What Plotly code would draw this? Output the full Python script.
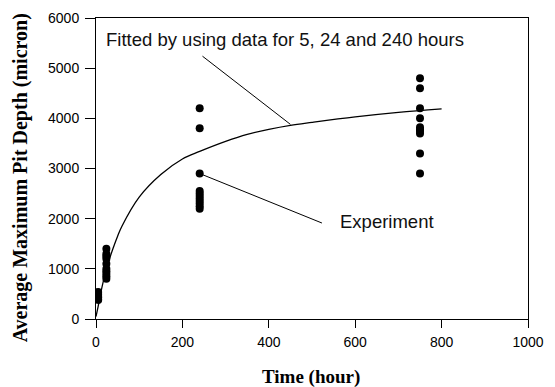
import plotly.graph_objects as go

# Experimental data (hours, pit depth in microns)
exp_time_5 = [5, 5, 5, 5, 5, 5]
exp_depth_5 = [540, 500, 460, 430, 400, 380]
exp_time_24 = [24] * 10
exp_depth_24 = [1400, 1300, 1250, 1200, 1100, 1000, 950, 900, 850, 800]
exp_time_240 = [240] * 11
exp_depth_240 = [4200, 3800, 2900, 2550, 2500, 2450, 2400, 2350, 2300, 2250, 2200]
exp_time_750 = [750] * 10
exp_depth_750 = [4800, 4600, 4200, 4000, 3820, 3780, 3750, 3700, 3300, 2900]

# Fitted curve
fit_time = [0, 5, 10, 24, 40, 50, 60, 100, 150, 200, 240, 300, 350, 400, 450, 500, 600, 700, 800]
fit_depth = [50, 250, 480, 1000, 1420, 1650, 1850, 2430, 2880, 3190, 3340, 3540, 3680, 3780, 3860, 3920, 4030, 4120, 4190]

x_ticks = [0, 200, 400, 600, 800, 1000]
y_ticks = [0, 1000, 2000, 3000, 4000, 5000, 6000]

# Annotation texts and pointer positions (data coordinates)
fit_label = "Fitted by using data for 5, 24 and 240 hours"
fit_label_pos = (18, 5580)
fit_pointer = ((243, 5262), (450, 3880))
exp_label = "Experiment"
exp_label_pos = (560, 1950)
exp_pointer = ((240, 2900), (523, 1913))
x_title = "Time (hour)"
y_title = "Average Maximum Pit Depth (micron)"

all_t = exp_time_5 + exp_time_24 + exp_time_240 + exp_time_750
all_d = exp_depth_5 + exp_depth_24 + exp_depth_240 + exp_depth_750

fig = go.Figure()
fig.add_trace(go.Scatter(x=fit_time, y=fit_depth, mode="lines",
                         line=dict(color="black", width=1.3, shape="spline"),
                         showlegend=False, hoverinfo="skip"))
fig.add_trace(go.Scatter(x=all_t, y=all_d, mode="markers",
                         marker=dict(color="black", size=8),
                         showlegend=False))

ann_font = dict(family="Arial, Liberation Sans, sans-serif", size=18.5, color="#111")
fig.add_annotation(x=fit_label_pos[0], y=fit_label_pos[1], xref="x", yref="y", text=fit_label,
                   showarrow=False, xanchor="left", yanchor="middle", font=ann_font)
fig.add_annotation(x=fit_pointer[1][0], y=fit_pointer[1][1], ax=fit_pointer[0][0], ay=fit_pointer[0][1],
                   xref="x", yref="y", axref="x", ayref="y",
                   text="", showarrow=True, arrowhead=0, arrowwidth=1, arrowcolor="black",
                   standoff=0, startstandoff=0)
fig.add_annotation(x=exp_label_pos[0], y=exp_label_pos[1], xref="x", yref="y", text=exp_label,
                   showarrow=False, xanchor="left", yanchor="middle", font=ann_font)
fig.add_annotation(x=exp_pointer[1][0], y=exp_pointer[1][1], ax=exp_pointer[0][0], ay=exp_pointer[0][1],
                   xref="x", yref="y", axref="x", ayref="y",
                   text="", showarrow=True, arrowhead=0, arrowwidth=1, arrowcolor="black",
                   standoff=0, startstandoff=0)

serif = "Liberation Serif, Times New Roman, serif"
tick_font = dict(family="Arial, Liberation Sans, sans-serif", size=14, color="black")

# Axis titles as annotations for exact placement
fig.add_annotation(x=-0.174, y=0.47, xref="paper", yref="paper",
                   text="<b>" + y_title + "</b>", textangle=-90,
                   showarrow=False, xanchor="center", yanchor="middle",
                   font=dict(family=serif, size=20, color="black"))
fig.add_annotation(x=0.498, y=-0.193, xref="paper", yref="paper",
                   text="<b>" + x_title + "</b>",
                   showarrow=False, xanchor="center", yanchor="middle",
                   font=dict(family=serif, size=19, color="black"))

fig.update_xaxes(range=[0, 1000], tickvals=x_ticks, ticks="outside", ticklen=8, tickcolor="black",
                 showline=True, linecolor="black", linewidth=1, mirror=True, showgrid=False,
                 zeroline=False, tickfont=tick_font, ticklabelstandoff=2, automargin=False)
fig.update_yaxes(range=[0, 6000], tickvals=y_ticks, ticks="outside", ticklen=10, tickcolor="black",
                 showline=True, linecolor="black", linewidth=1, mirror=True, showgrid=False,
                 zeroline=False, tickfont=tick_font, ticklabelstandoff=3, automargin=False)

fig.update_layout(width=555, height=387, margin=dict(l=96, r=27, t=18, b=68),
                  plot_bgcolor="white", paper_bgcolor="white")

fig.write_html("out.html", config={"displayModeBar": False},
               post_script="document.body.style.margin='0px';")
